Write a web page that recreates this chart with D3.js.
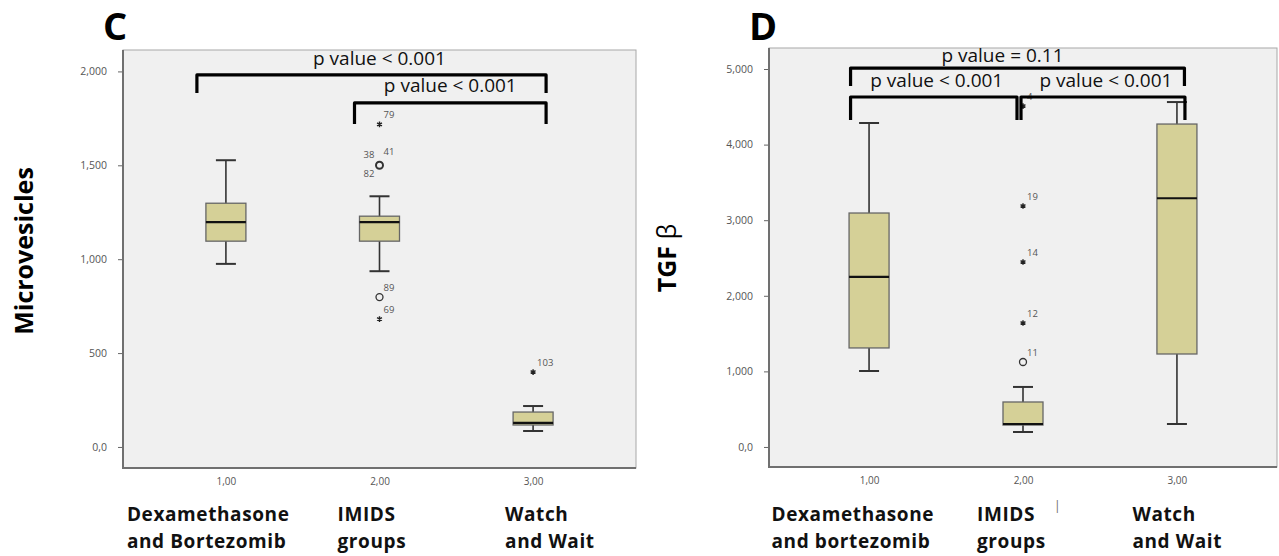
<!DOCTYPE html>
<html>
<head>
<meta charset="utf-8">
<script src="https://cdn.jsdelivr.net/npm/d3@7"></script>
<style>
  body { margin: 0; background: #fff; }
  text { font-family: "Open Sans", sans-serif; }
</style>
</head>
<body>
<svg id="chart" width="1279" height="556"></svg>
<script>
// groepen (x-as)
const groups = ["1,00", "2,00", "3,00"];

// paneel C - Microvesicles
const mvTicks = [0, 500, 1000, 1500, 2000];
const mvTickLabels = ["0,0", "500", "1,000", "1,500", "2,000"];
const mvLow  = [975, 936, 85];
const mvQ1   = [1096, 1096, 117];
const mvMed  = [1197, 1197, 128];
const mvQ3   = [1298, 1229, 186];
const mvHigh = [1527, 1335, 218];
const mvOutliers = [
  { g: 1, v: 1718, type: "star",   labels: ["79"] },
  { g: 1, v: 1500, type: "circle", labels: ["38", "41", "82"] },
  { g: 1, v: 798,  type: "circle", labels: ["89"] },
  { g: 1, v: 681,  type: "star",   labels: ["69"] },
  { g: 2, v: 399,  type: "star",   labels: ["103"] }
];
const mvBrackets = [
  { from: 0, to: 2, top: 1981, bottom: 1885, text: "p value < 0.001" },
  { from: 1, to: 2, top: 1832, bottom: 1720, text: "p value < 0.001" }
];
const mvCategories = [["Dexamethasone", "and Bortezomib"], ["IMIDS", "groups"], ["Watch", "and Wait"]];

// paneel D - TGF beta
const tgfTicks = [0, 1000, 2000, 3000, 4000, 5000];
const tgfTickLabels = ["0,0", "1,000", "2,000", "3,000", "4,000", "5,000"];
const tgfLow  = [1005, 198, 304];
const tgfQ1   = [1310, 290, 1230];
const tgfMed  = [2249, 304, 3290];
const tgfQ3   = [3095, 595, 4272];
const tgfHigh = [4286, 794, 4563];
const tgfOutliers = [
  { g: 1, v: 4510, type: "star",   labels: ["4"] },
  { g: 1, v: 3188, type: "star",   labels: ["19"] },
  { g: 1, v: 2447, type: "star",   labels: ["14"] },
  { g: 1, v: 1640, type: "star",   labels: ["12"] },
  { g: 1, v: 1124, type: "circle", labels: ["11"] }
];
const tgfBrackets = [
  { from: 0, to: 2, top: 5013, bottom: 4775, text: "p value = 0.11" },
  { from: 0, to: 1, top: 4630, bottom: 4325, text: "p value < 0.001" },
  { from: 1, to: 2, top: 4630, bottom: 4325, text: "p value < 0.001" }
];
const tgfCategories = [["Dexamethasone", "and bortezomib"], ["IMIDS", "groups"], ["Watch", "and Wait"]];

const svg = d3.select("#chart");

function drawPanel(p) {
  const g = svg.append("g");
  const [x0, x1, y0, y1] = p.frame;

  const x = d3.scalePoint().domain(groups).range([x0, x1]).padding(p.padding);
  const y = d3.scaleLinear().domain(p.domain).range([y1, y0]);

  // plotvlak
  g.append("rect")
    .attr("x", x0).attr("y", y0)
    .attr("width", x1 - x0).attr("height", y1 - y0)
    .attr("fill", "#f0f0f0")
    .attr("stroke", "#a8a8a8")
    .attr("stroke-width", 1);
  g.append("path")
    .attr("d", `M${x0},${y0}V${y1}H${x1}`)
    .attr("fill", "none")
    .attr("stroke", "#707070")
    .attr("stroke-width", 2);

  // letter
  g.append("text")
    .attr("x", p.letterX).attr("y", 40)
    .style("font-size", "38px").style("font-weight", 700)
    .text(p.letter);

  // y-as
  const yAxis = g.append("g")
    .attr("transform", `translate(${x0 - 1},0)`)
    .call(d3.axisLeft(y).tickValues(p.ticks).tickFormat((d, i) => p.tickLabels[i]).tickSize(4).tickPadding(11));
  yAxis.select(".domain").remove();
  yAxis.selectAll("line").attr("stroke", "#666");
  yAxis.selectAll("text").style("font-size", "10.5px").attr("fill", "#555").style("font-family", "Open Sans");

  // x-as
  const xAxis = g.append("g")
    .attr("transform", `translate(0,${y1})`)
    .call(d3.axisBottom(x).tickSize(0).tickPadding(10));
  xAxis.select(".domain").remove();
  xAxis.selectAll("text").style("font-size", "10px").attr("fill", "#555").style("font-family", "Open Sans");

  // y-titel
  const yt = g.append("text")
    .attr("transform", `translate(${p.titleX},${p.titleY}) rotate(-90)`)
    .attr("text-anchor", "middle")
    .style("font-size", "25px").style("font-weight", 700);
  yt.append("tspan").text(p.title);
  if (p.titleExtra) yt.append("tspan").style("font-weight", 400).text(p.titleExtra);

  // boxplots
  const boxW = 40, capW = 20;
  groups.forEach((grp, i) => {
    const cx = x(grp);
    g.append("line")
      .attr("x1", cx).attr("x2", cx)
      .attr("y1", y(p.low[i])).attr("y2", y(p.high[i]))
      .attr("stroke", "#333").attr("stroke-width", 1.6);
    [p.low[i], p.high[i]].forEach(v => {
      g.append("line")
        .attr("x1", cx - capW / 2).attr("x2", cx + capW / 2)
        .attr("y1", y(v)).attr("y2", y(v))
        .attr("stroke", "#333").attr("stroke-width", 2);
    });
    g.append("rect")
      .attr("x", cx - boxW / 2).attr("y", y(p.q3[i]))
      .attr("width", boxW).attr("height", y(p.q1[i]) - y(p.q3[i]))
      .attr("fill", "#d5d097")
      .attr("stroke", "#666").attr("stroke-width", 1.3);
    g.append("line")
      .attr("x1", cx - boxW / 2).attr("x2", cx + boxW / 2)
      .attr("y1", y(p.med[i])).attr("y2", y(p.med[i]))
      .attr("stroke", "#111").attr("stroke-width", 2.2);
  });

  // uitschieters
  const star = d3.symbol().type(d3.symbolAsterisk).size(22);
  p.outliers.forEach(o => {
    const cx = x(groups[o.g]), cy = y(o.v);
    if (o.type === "star") {
      g.append("path").attr("d", star())
        .attr("transform", `translate(${cx},${cy})`)
        .attr("fill", "none").attr("stroke", "#222").attr("stroke-width", 1.4);
    } else {
      g.append("circle").attr("cx", cx).attr("cy", cy).attr("r", 3.5)
        .attr("fill", "none").attr("stroke", "#333")
        .attr("stroke-width", o.labels.length > 1 ? 2 : 1.3);
    }
    const offs = o.labels.length > 1
      ? [[-16, -7], [4, -10], [-16, 12]]
      : [[4, -6]];
    o.labels.forEach((lab, j) => {
      g.append("text")
        .attr("x", cx + offs[j][0]).attr("y", cy + offs[j][1])
        .style("font-size", "9.5px").attr("fill", "#555")
        .text(lab);
    });
  });

  // p-waarde haken
  p.brackets.forEach((b, k) => {
    const [dl, dr, dt] = p.bracketOffsets[k];
    const xl = x(groups[b.from]) + dl, xr = x(groups[b.to]) + dr;
    const yt2 = y(b.top), yb = y(b.bottom);
    g.append("path")
      .attr("d", `M${xl},${yb}V${yt2}H${xr}V${yb}`)
      .attr("fill", "none").attr("stroke", "#000")
      .attr("stroke-width", 3.2).attr("stroke-linejoin", "round");
    g.append("text")
      .attr("x", (xl + xr) / 2 + dt).attr("y", yt2 - p.textGap[k])
      .attr("text-anchor", "middle")
      .style("font-size", "19px").attr("fill", "#111")
      .text(b.text);
  });

  // categorie-labels
  p.categories.forEach((lines, i) => {
    const t = g.append("text")
      .attr("x", x(groups[i]) + p.catOffsets[i])
      .attr("y", 521)
      .style("font-size", "19px").style("font-weight", 700)
      .style("letter-spacing", "0.6px").attr("fill", "#111");
    lines.forEach((ln, j) => {
      t.append("tspan").attr("x", x(groups[i]) + p.catOffsets[i]).attr("dy", j === 0 ? 0 : 27).text(ln);
    });
  });

  return { x, y };
}

drawPanel({
  letter: "C", letterX: 103,
  frame: [123, 636, 50, 468], padding: 0.67,
  domain: [-112, 2114], ticks: mvTicks, tickLabels: mvTickLabels,
  title: "Microvesicles", titleX: 33, titleY: 251,
  low: mvLow, q1: mvQ1, med: mvMed, q3: mvQ3, high: mvHigh,
  outliers: mvOutliers, brackets: mvBrackets,
  bracketOffsets: [[-29, 13, 8], [-25, 13, 0]],
  textGap: [10, 11],
  categories: mvCategories, catOffsets: [-99, -42, -28]
});

const dPanel = drawPanel({
  letter: "D", letterX: 749,
  frame: [769, 1277, 48, 467], padding: 0.65,
  domain: [-265, 5278], ticks: tgfTicks, tickLabels: tgfTickLabels,
  title: "TGF ", titleExtra: "β", titleX: 676, titleY: 258,
  low: tgfLow, q1: tgfQ1, med: tgfMed, q3: tgfQ3, high: tgfHigh,
  outliers: tgfOutliers, brackets: tgfBrackets,
  bracketOffsets: [[-18.5, 7.5, -15], [-18.5, -6, 3], [-2, 8, 3]],
  textGap: [6, 10, 10],
  categories: tgfCategories, catOffsets: [-97.5, -46, -44.5]
});

// losse markering onder paneel D
svg.append("text")
  .attr("x", dPanel.x(groups[1]) + 31).attr("y", 510)
  .style("font-size", "12px").attr("fill", "#666")
  .text("|");
</script>
</body>
</html>
